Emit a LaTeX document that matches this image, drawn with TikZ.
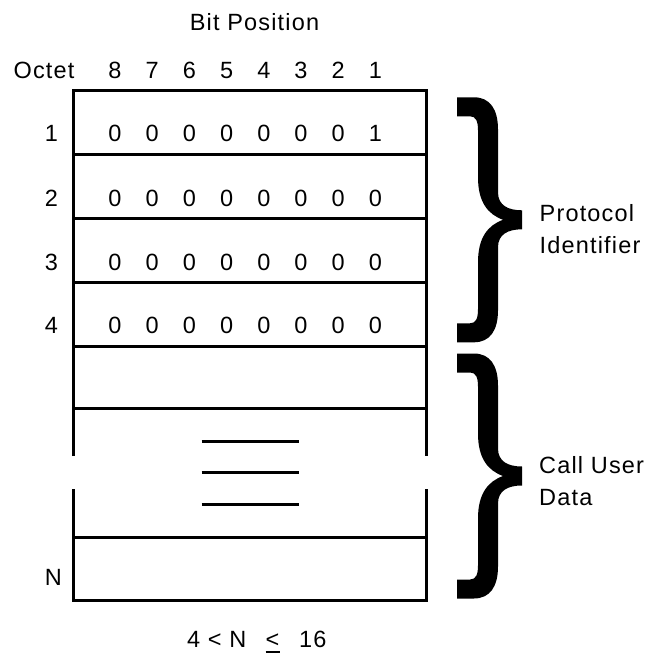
\documentclass[tikz,border=0pt]{standalone}
\usepackage{fontspec}
\setmainfont{Liberation Sans}[LetterSpace=5]
\begin{document}
\begin{tikzpicture}[x=1pt,y=-1pt,
  font=\fontsize{23.5}{28}\selectfont,
  frame/.style={line width=3pt, line join=miter},
  rule/.style={line width=3pt},
  txt/.style={inner sep=0pt, anchor=base},
  lbl/.style={inner sep=0pt, anchor=base west},
  bigbrace/.pic={
    \fill[black] (0,0) -- (17,0) .. controls (33,0) and (41,12) .. (41,32)
      -- (41,95) .. controls (41,108) and (51,113) .. (65,113)
      -- (65,132) .. controls (51,132) and (41,137) .. (41,150)
      -- (41,213) .. controls (41,233) and (33,245) .. (17,245)
      -- (0,245) -- (0,226) -- (13,226) .. controls (19,226) and (21,221) .. (21,212)
      -- (21,165) .. controls (21,140) and (31,128) .. (46,122.5)
      .. controls (31,117) and (21,105) .. (21,80)
      -- (21,33) .. controls (21,24) and (19,19) .. (13,19)
      -- (0,19) -- cycle;
  }]
\useasboundingbox (0,0) rectangle (651,656);

% headings
\node[txt] (bitpos) at (254.5,30.7) {Bit Position};
\node[txt] (octet) at (44,78.3) {Octet};
\foreach \b [count=\i from 0] in {8,7,6,5,4,3,2,1}
  \node[txt] (bit\b) at ({115+37.2*\i},78.3) {\b};

% frame of the octet table, broken on both sides
\draw[frame] (73.3,456) -- (73.3,90) -- (426.7,90) -- (426.7,456);
\draw[frame] (73.3,489.3) -- (73.3,600) -- (426.7,600) -- (426.7,489.3);
\foreach \y in {154,218.3,282.3,346.5,408.5,537}
  \draw[rule] (73.3,\y) -- (426.7,\y);

% elision marks for the omitted octets
\foreach \y in {441,472.3,504.7}
  \draw[rule] (201.7,\y) -- (299,\y);

% octet numbers and bit values
\foreach \r/\y/\vals in {1/141.7/{0,0,0,0,0,0,0,1},
                        2/206.3/{0,0,0,0,0,0,0,0},
                        3/270/{0,0,0,0,0,0,0,0},
                        4/333.5/{0,0,0,0,0,0,0,0}}{
  \node[txt] (oct\r) at (51.5,\y) {\r};
  \foreach \v [count=\i from 0] in \vals
    \node[txt] (v\r-\i) at ({115+37.2*\i},\y) {\v};
}
\node[txt] (octN) at (53.3,585.7) {N};

% range of N
\node[lbl] (rangeA) at (187,647.5) {4 < N};
\node[lbl] (le) at (265.5,647.5) {<};
\draw[line width=2pt] ([yshift=-4.5pt]le.base west) -- ([yshift=-4.5pt]le.base east);
\node[lbl] (rangeB) at (299,647.5) {16};

% braces and their labels
\pic at (457,97.3) {bigbrace};
\pic at (457,353.5) {bigbrace};
\node[lbl] (prot) at (539.5,221.7) {Protocol};
\node[lbl] (ident) at (539.5,253.7) {Identifier};
\node[lbl] (call) at (539,473.3) {Call User};
\node[lbl] (data) at (539,505.3) {Data};
\end{tikzpicture}
\end{document}
